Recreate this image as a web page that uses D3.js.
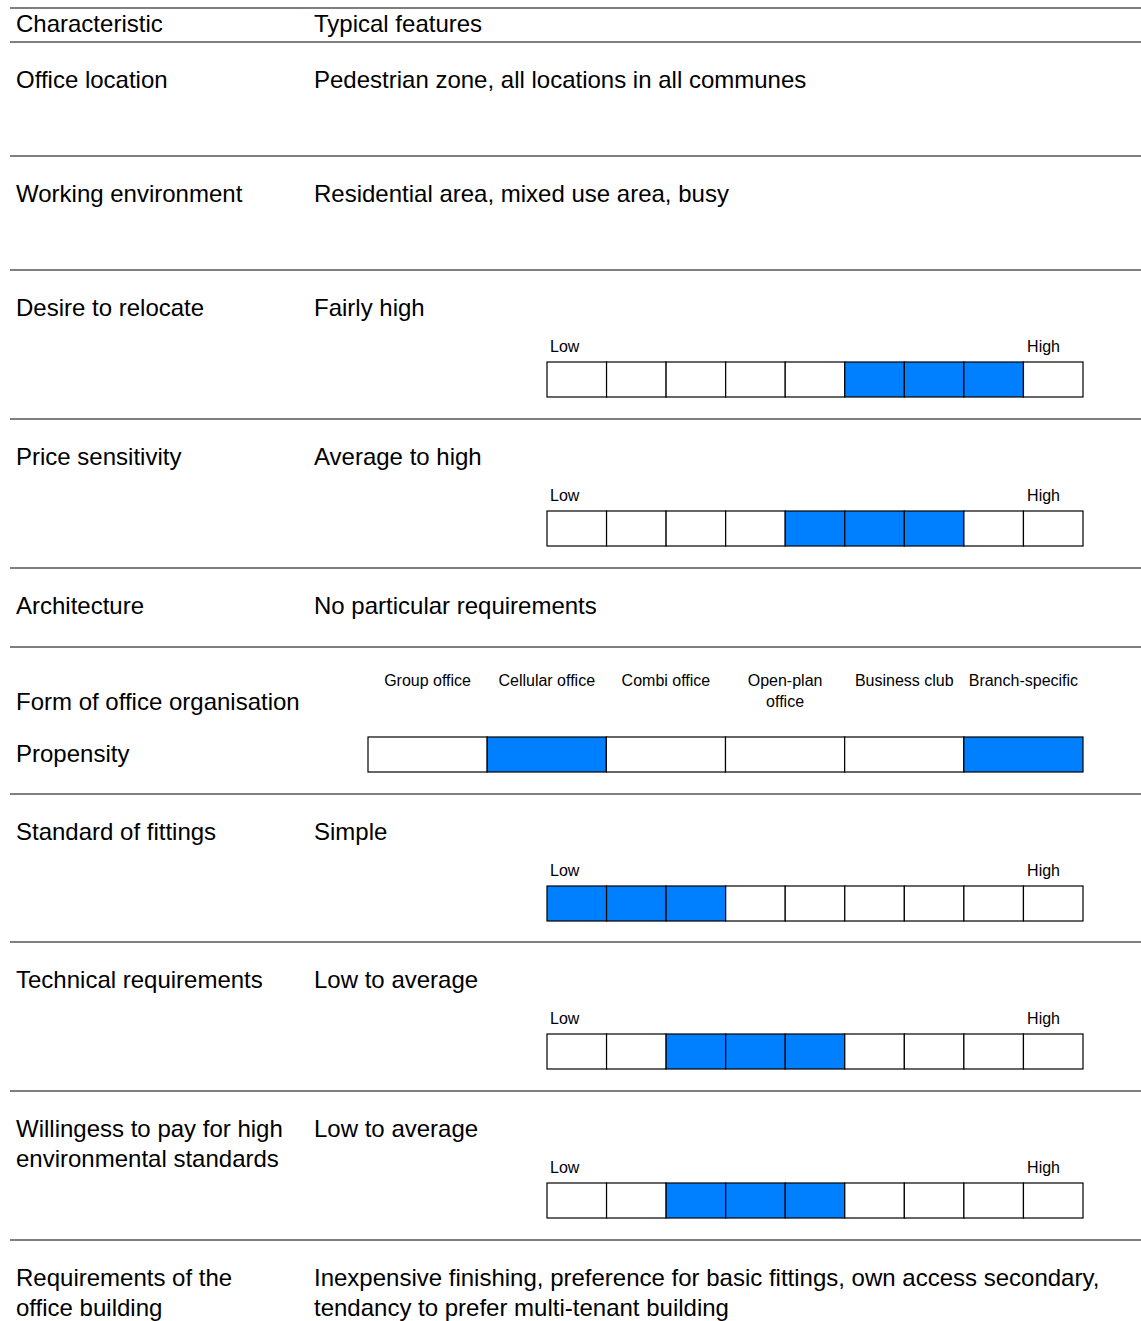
<!DOCTYPE html>
<html>
<head>
<meta charset="utf-8">
<script src="https://cdn.jsdelivr.net/npm/d3@7"></script>
<style>
  body { margin: 0; background: #fff; }
  svg { display: block; font-family: "Liberation Sans", Arial, sans-serif; }
</style>
</head>
<body>
<script>
// table content
var headers = ["Characteristic", "Typical features"];
var characteristics = [
  ["Office location"],
  ["Working environment"],
  ["Desire to relocate"],
  ["Price sensitivity"],
  ["Architecture"],
  ["Form of office organisation"],
  ["Standard of fittings"],
  ["Technical requirements"],
  ["Willingess to pay for high", "environmental standards"],
  ["Requirements of the", "office building"]
];
var features = [
  ["Pedestrian zone, all locations in all communes"],
  ["Residential area, mixed use area, busy"],
  ["Fairly high"],
  ["Average to high"],
  ["No particular requirements"],
  [],
  ["Simple"],
  ["Low to average"],
  ["Low to average"],
  ["Inexpensive finishing, preference for basic fittings, own access secondary,", "tendancy to prefer multi-tenant building"]
];

// 9-step low/high scales (levels marked, 1 = low, 9 = high)
var levels = [1, 2, 3, 4, 5, 6, 7, 8, 9];
var desireRelocate = [6, 7, 8];
var priceSensitivity = [5, 6, 7];
var fittingsStandard = [1, 2, 3];
var technicalReq = [3, 4, 5];
var greenWillingness = [3, 4, 5];
var scaleLabels = ["Low", "High"];

// office organisation forms
var officeForms = ["Group office", "Cellular office", "Combi office", "Open-plan office", "Business club", "Branch-specific"];
var officePropensity = [0, 1, 0, 0, 0, 1];
var propensityLabel = "Propensity";

// which rating goes with which row (null = text only)
var rowScales = [null, null, desireRelocate, priceSensitivity, null, "org", fittingsStandard, technicalReq, greenWillingness, null];

// layout
var w = 1141, h = 1321;
var rowHeights = [114, 114, 149, 149, 79, 147, 148, 149, 149, 81];
var col1 = 16, col2 = 314;
var blue = "#0080ff";

var svg = d3.select("body").append("svg")
  .attr("width", w)
  .attr("height", h);

function rule(y) {
  svg.append("line")
    .attr("x1", 10).attr("x2", w)
    .attr("y1", y).attr("y2", y)
    .attr("stroke", "#000")
    .attr("stroke-width", 1.2);
}

// header
rule(8);
svg.append("text").attr("x", col1).attr("y", 32).attr("font-size", 24).text(headers[0]);
svg.append("text").attr("x", col2).attr("y", 32).attr("font-size", 24).text(headers[1]);
rule(42);

var x9 = d3.scaleBand().domain(levels).range([547, 1083]);
var x6 = d3.scaleBand().domain(d3.range(officeForms.length)).range([368, 1083]);

var rowTop = 42;
characteristics.forEach(function(lines, i) {
  var g = svg.append("g").attr("transform", "translate(0," + rowTop + ")");

  if (rowScales[i] !== "org") {
    g.selectAll(".c1").data(lines).enter().append("text")
      .attr("class", "c1")
      .attr("x", col1)
      .attr("y", function(d, j) { return 46 + j * 30; })
      .attr("font-size", 24)
      .text(function(d) { return d; });
  } else {
    g.append("text").attr("x", col1).attr("y", 63).attr("font-size", 24).text(lines[0]);
    g.append("text").attr("x", col1).attr("y", 115).attr("font-size", 24).text(propensityLabel);
  }

  g.selectAll(".c2").data(features[i]).enter().append("text")
    .attr("class", "c2")
    .attr("x", col2)
    .attr("y", function(d, j) { return 46 + j * 30; })
    .attr("font-size", 24)
    .text(function(d) { return d; });

  var sc = rowScales[i];
  if (sc && sc !== "org") {
    g.append("text").attr("x", 550).attr("y", 82).attr("font-size", 16).text(scaleLabels[0]);
    g.append("text").attr("x", 1060).attr("y", 82).attr("font-size", 16)
      .attr("text-anchor", "end").text(scaleLabels[1]);
    g.selectAll(".cell").data(levels).enter().append("rect")
      .attr("class", "cell")
      .attr("x", function(d) { return x9(d); })
      .attr("y", 92)
      .attr("width", x9.bandwidth())
      .attr("height", 35)
      .attr("fill", function(d) { return sc.indexOf(d) >= 0 ? blue : "#fff"; })
      .attr("stroke", "#000")
      .attr("stroke-width", 1.2);
  } else if (sc === "org") {
    var labels = g.selectAll(".form").data(officeForms).enter().append("text")
      .attr("class", "form")
      .attr("x", function(d, j) { return x6(j) + x6.bandwidth() / 2; })
      .attr("y", 39)
      .attr("font-size", 16)
      .attr("text-anchor", "middle")
      .text(function(d) { return d; });
    // wrap labels that do not fit the cell
    labels.each(function(d) {
      var t = d3.select(this);
      if (this.getComputedTextLength() > 114) {
        var words = d.split(" ");
        var cx = t.attr("x");
        t.text(null);
        t.append("tspan").attr("x", cx).text(words.slice(0, -1).join(" "));
        t.append("tspan").attr("x", cx).attr("dy", 21).text(words[words.length - 1]);
      }
    });
    g.selectAll(".ocell").data(officePropensity).enter().append("rect")
      .attr("class", "ocell")
      .attr("x", function(d, j) { return x6(j); })
      .attr("y", 90)
      .attr("width", x6.bandwidth())
      .attr("height", 35)
      .attr("fill", function(d) { return d ? blue : "#fff"; })
      .attr("stroke", "#000")
      .attr("stroke-width", 1.2);
  }

  rowTop += rowHeights[i];
  if (i < characteristics.length - 1) rule(rowTop);
});
</script>
</body>
</html>
